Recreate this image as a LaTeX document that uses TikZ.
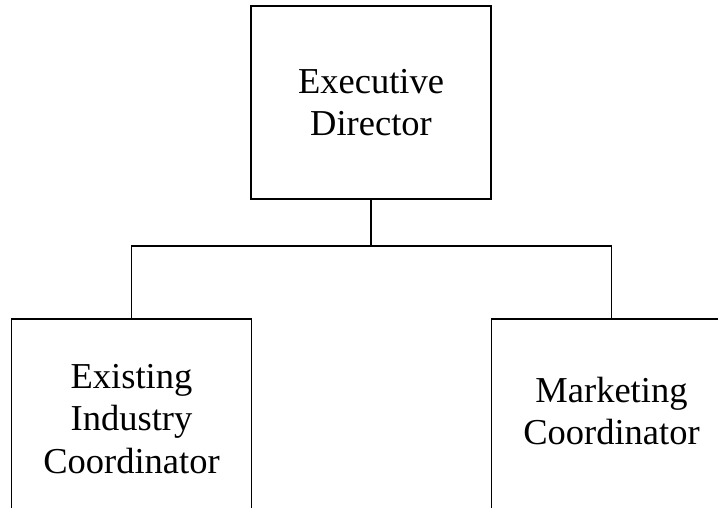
\documentclass[tikz,border=0pt]{standalone}
\usepackage{fontspec}
\setmainfont{Liberation Serif}
\usetikzlibrary{positioning}

\tikzset{
  post/.style={draw, line width=1.5pt, align=center, minimum width=240pt,
    font=\fontsize{36.5}{42.5}\selectfont},
  link/.style={line width=1.5pt}
}

\begin{document}
\begin{tikzpicture}[x=1pt,y=-1pt]
\useasboundingbox (0,0) rectangle (718,507);

% director at the top
\node[post, minimum height=193pt] (exec) at (371,102.5) {Executive\\Director};

% the two coordinators, cut by the page edge
\node[post, minimum height=210pt, text depth=10pt, anchor=north] (industry) at (131.5,318) {Existing\\Industry\\Coordinator};
\node[post, minimum height=210pt, text depth=26pt, anchor=north] (marketing) at (611.5,318) {Marketing\\Coordinator};

\coordinate (split) at (371,246);
\draw[link] (exec.south) -- (split);
\draw[link] (industry.north) |- (split) -| (marketing.north);
\end{tikzpicture}
\end{document}
